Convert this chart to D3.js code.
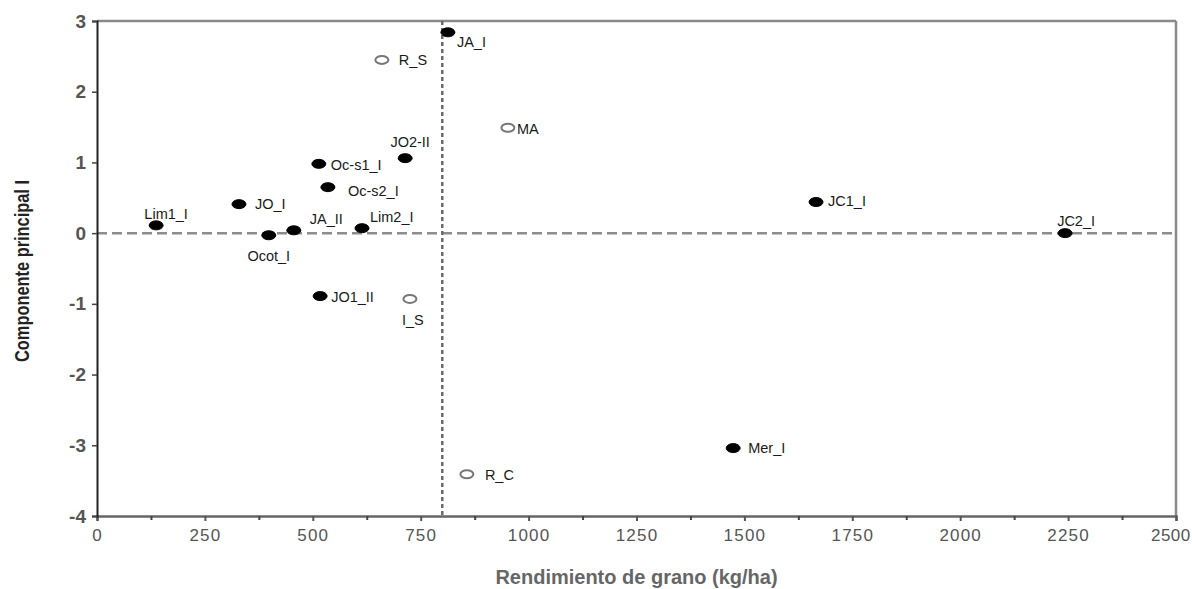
<!DOCTYPE html>
<html>
<head>
<meta charset="utf-8">
<script src="https://cdn.jsdelivr.net/npm/d3@7"></script>
<style>
  body { margin: 0; background: #fff; }
  svg { font-family: "Liberation Sans", Arial, sans-serif; }
</style>
</head>
<body>
<div id="chart"></div>
<script>
// Data
const names  = ['Lim1_I', 'JO_I', 'Ocot_I', 'JA_II', 'Oc-s1_I', 'Oc-s2_I', 'Lim2_I', 'JO2-II', 'JO1_II', 'I_S', 'R_S', 'JA_I', 'MA', 'R_C', 'Mer_I', 'JC1_I', 'JC2_I'];
const yields = [137, 329, 398, 456, 514, 535, 614, 714, 517, 725, 660, 813, 952, 857, 1474, 1666, 2243];
const comp1  = [0.11, 0.41, -0.03, 0.04, 0.98, 0.65, 0.07, 1.06, -0.89, -0.93, 2.45, 2.84, 1.49, -3.41, -3.04, 0.44, 0.0];
const filled = [true, true, true, true, true, true, true, true, true, false, false, true, false, false, true, true, true];

const xTicks = [0, 250, 500, 750, 1000, 1250, 1500, 1750, 2000, 2250, 2500];
const yTicks = [3, 2, 1, 0, -1, -2, -3, -4];
const xRef = 800;
const yRef = 0;

// label placement: [dx, dy, anchor]
const labelPos = {
  'Lim1_I': [10, -6, 'middle'],
  'JO_I': [16, 5, 'start'],
  'Ocot_I': [0, 26, 'middle'],
  'JA_II': [16, -6, 'start'],
  'Oc-s1_I': [12, 6, 'start'],
  'Oc-s2_I': [20, 9, 'start'],
  'Lim2_I': [8, -6, 'start'],
  'JO2-II': [5, -11, 'middle'],
  'JO1_II': [11, 6, 'start'],
  'I_S': [3, 26, 'middle'],
  'R_S': [17, 5, 'start'],
  'JA_I': [9, 15, 'start'],
  'MA': [9, 6, 'start'],
  'R_C': [18, 6, 'start'],
  'Mer_I': [15, 5, 'start'],
  'JC1_I': [12, 4, 'start'],
  'JC2_I': [11, -7, 'middle']
};

const W = 1192, H = 589;
const margin = {top: 21, right: 16, bottom: 73, left: 97};
const width = W - margin.left - margin.right;
const height = H - margin.top - margin.bottom;

const svg = d3.select('#chart').append('svg')
  .attr('width', W)
  .attr('height', H);

const g = svg.append('g')
  .attr('transform', `translate(${margin.left},${margin.top})`);

const x = d3.scaleLinear().domain([0, 2500]).range([0, width]);
const y = d3.scaleLinear().domain([-4, 3]).range([height, 0]);

// frame (top and right)
g.append('line').attr('x1', 0).attr('x2', width).attr('y1', 0).attr('y2', 0)
  .attr('stroke', '#8a8a8a').attr('stroke-width', 2.5);
g.append('line').attr('x1', width).attr('x2', width).attr('y1', 0).attr('y2', height)
  .attr('stroke', '#8a8a8a').attr('stroke-width', 2.5);

// reference lines
g.append('line')
  .attr('x1', 0).attr('x2', width)
  .attr('y1', y(yRef)).attr('y2', y(yRef))
  .attr('stroke', '#8c8c8c').attr('stroke-width', 2.5)
  .attr('stroke-dasharray', '10,5');
g.append('line')
  .attr('x1', x(xRef)).attr('x2', x(xRef))
  .attr('y1', 0).attr('y2', height)
  .attr('stroke', '#6a6a6a').attr('stroke-width', 2.5)
  .attr('stroke-dasharray', '4,3');

// x axis
const xAxis = g.append('g')
  .attr('transform', `translate(0,${height})`)
  .call(d3.axisBottom(x).tickValues(xTicks).tickSize(5).tickPadding(8).tickFormat(d3.format('d')));
const xMinor = g.append('g')
  .attr('transform', `translate(0,${height})`)
  .call(d3.axisBottom(x).tickValues(xTicks.slice(0, -1).map(d => d + 125)).tickSize(4).tickFormat(''));
xMinor.select('.domain').remove();
xMinor.selectAll('line').attr('stroke', '#444').attr('stroke-width', 2);
xAxis.select('.domain').attr('stroke', '#666').attr('stroke-width', 2.5);
xAxis.selectAll('line').attr('stroke', '#555').attr('stroke-width', 2);
xAxis.selectAll('text')
  .attr('font-size', 17)
  .attr('letter-spacing', 1.2)
  .attr('fill', '#555');
// keep the last label inside the page
xAxis.selectAll('.tick').filter(d => d === 2500).select('text')
  .attr('text-anchor', 'end')
  .attr('x', 14)
  .attr('letter-spacing', 0.4);

// y axis
const yAxis = g.append('g')
  .call(d3.axisLeft(y).tickValues(yTicks).tickSize(5).tickPadding(6).tickFormat(d => d < 0 ? '-' + Math.abs(d) : d));
yAxis.select('.domain').attr('stroke', '#222').attr('stroke-width', 2);
yAxis.selectAll('line').attr('stroke', '#444').attr('stroke-width', 1.5);
yAxis.selectAll('text')
  .attr('font-size', 19)
  .attr('font-weight', 'bold')
  .attr('fill', '#555');

// points
const pts = names.map((n, i) => ({name: n, x: yields[i], y: comp1[i], filled: filled[i]}));

g.selectAll('ellipse.pt')
  .data(pts)
  .join('ellipse')
  .attr('class', 'pt')
  .attr('cx', d => x(d.x))
  .attr('cy', d => y(d.y))
  .attr('rx', d => d.filled ? 7 : 6.5)
  .attr('ry', d => d.filled ? 4.5 : 4)
  .attr('fill', d => d.filled ? '#000' : '#fff')
  .attr('stroke', d => d.filled ? '#000' : '#777')
  .attr('stroke-width', d => d.filled ? 1 : 2);

g.selectAll('text.lbl')
  .data(pts)
  .join('text')
  .attr('class', 'lbl')
  .attr('x', d => x(d.x) + labelPos[d.name][0])
  .attr('y', d => y(d.y) + labelPos[d.name][1])
  .attr('text-anchor', d => labelPos[d.name][2])
  .attr('font-size', 14.5)
  .attr('fill', '#1a1a1a')
  .text(d => d.name);

// axis titles
svg.append('text')
  .attr('x', margin.left + width / 2)
  .attr('y', 584)
  .attr('text-anchor', 'middle')
  .attr('font-size', 20)
  .attr('font-weight', 'bold')
  .attr('fill', '#666')
  .text('Rendimiento de grano (kg/ha)');

svg.append('text')
  .attr('transform', `translate(29,${margin.top + 250}) rotate(-90) scale(0.82,1)`)
  .attr('text-anchor', 'middle')
  .attr('font-size', 20)
  .attr('font-weight', 'bold')
  .attr('fill', '#222')
  .text('Componente principal I');
</script>
</body>
</html>
